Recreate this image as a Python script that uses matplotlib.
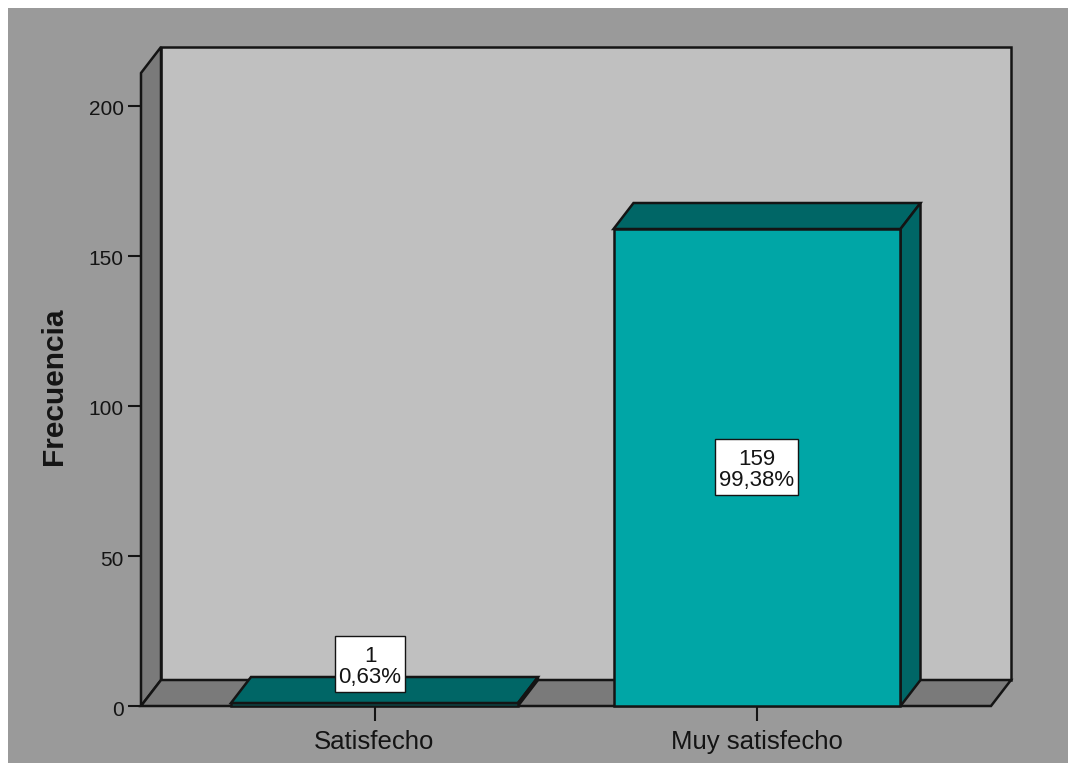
import matplotlib
matplotlib.use("Agg")
import matplotlib.pyplot as plt
from matplotlib.patches import Rectangle, Polygon
from matplotlib.transforms import ScaledTranslation

categories = ["Satisfecho", "Muy satisfecho"]
counts = [1, 159]
percents = ["0,63%", "99,38%"]
y_ticks = [0, 50, 100, 150, 200]

W, H = 1068, 763
BG, WALL, SIDE, TEAL, DARK, INK = "#9a9a9a", "#c0c0c0", "#7a7a7a", "#00a6a6", "#006666", "#141414"
plt.rcParams["font.family"] = ["Liberation Sans", "DejaVu Sans"]

fig = plt.figure(figsize=(W / 100, H / 100), dpi=100, facecolor="white")
fig.add_artist(Rectangle((8 / W, 0), 1 - 8 / W, 1 - 8 / H, transform=fig.transFigure,
                         facecolor=BG, edgecolor="none", zorder=-5))

left, right, bottom, top = 141, 991, 706, 73
ax = fig.add_axes([left / W, 1 - bottom / H, (right - left) / W, (bottom - top) / H])
ax.patch.set_visible(False)
for s in ax.spines.values():
    s.set_visible(False)

unit_x = 382.5
x0 = -(374.5 - left) / unit_x
x1 = x0 + (right - left) / unit_x
y1 = (bottom - top) / 3
ax.set_xlim(x0, x1)
ax.set_ylim(0, y1)
dx, dy = 20 / unit_x, 26 / 3
bw = 287 / unit_x
lw = 1.8


def poly(pts, fc, z):
    ax.add_patch(Polygon(pts, closed=True, facecolor=fc, edgecolor=INK, linewidth=lw,
                         joinstyle="miter", clip_on=False, zorder=z))


# 3D frame: back wall, side wall, floor
poly([(x0 + dx, dy), (x1 + dx, dy), (x1 + dx, y1 + dy), (x0 + dx, y1 + dy)], WALL, 1)
poly([(x0, 0), (x0 + dx, dy), (x0 + dx, y1 + dy), (x0, y1)], SIDE, 2)
poly([(x0, 0), (x1, 0), (x1 + dx, dy), (x0 + dx, dy)], SIDE, 2)

# Bars
xs = list(range(len(categories)))
ax.bar(xs, counts, width=bw, color=TEAL, edgecolor=INK, linewidth=lw, zorder=4, clip_on=False)
for x, v in zip(xs, counts):
    a, b = x - bw / 2, x + bw / 2
    poly([(a, v), (b, v), (b + dx, v + dy), (a + dx, v + dy)], DARK, 3)
    poly([(b, 0), (b + dx, dy), (b + dx, v + dy), (b, v)], DARK, 3)

# Labels: counts plus percent, in white boxes
box_offsets = [(-4.5, 14), (0, 79.5)]
box_widths = [70, 83]
for x, v, p, (ox, yc), w in zip(xs, counts, percents, box_offsets, box_widths):
    xc = x + ox / unit_x
    ww = w / unit_x
    ax.add_patch(Rectangle((xc - ww / 2, yc - 28 / 3), ww, 56 / 3, facecolor="white",
                           edgecolor=INK, linewidth=1.0, zorder=6, clip_on=False))
    ax.text(xc, yc - 0.9, f"{v}\n{p}", ha="center", va="center", fontsize=16, color=INK,
            linespacing=1.0, zorder=7)

ax.set_yticks(y_ticks)
ax.set_xticks(xs)
ax.set_xticklabels(categories)
ax.tick_params(axis="y", length=9.5, width=1.5, color=INK, labelcolor=INK, labelsize=15, pad=3)
ax.tick_params(axis="x", length=11, width=1.5, color=INK, labelcolor=INK, labelsize=18.5, pad=6)
shift = ScaledTranslation(0, -2 / 100, fig.dpi_scale_trans)
for t in ax.get_yticklabels():
    t.set_transform(t.get_transform() + shift)
ax.set_ylabel("Frecuencia", fontsize=21.5, fontweight="bold", color=INK)
ax.yaxis.set_label_coords((68 - left) / (right - left), (bottom - 386) / (bottom - top))

fig.savefig("out.png", dpi=100, facecolor=fig.get_facecolor())
